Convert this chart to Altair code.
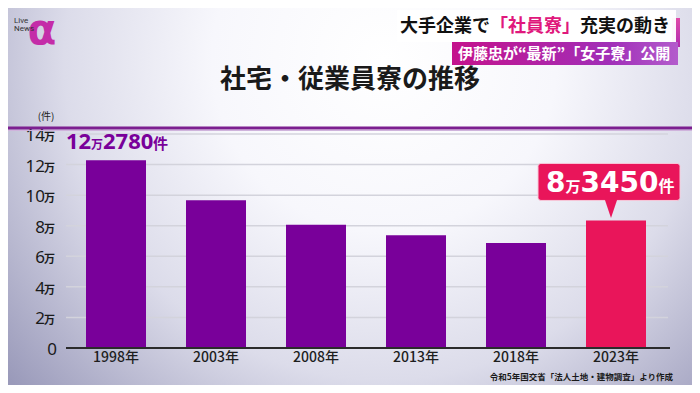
import altair as alt
import pandas as pd

# ---- data ----
years = ["1998年", "2003年", "2008年", "2013年", "2018年", "2023年"]
counts = [122780, 96600, 80600, 73700, 68700, 83450]
tick_nums = [0, 2, 4, 6, 8, 10, 12, 14]
unit_label = "万"
title_text = "社宅・従業員寮の推移"
source_text = "令和5年国交省「法人土地・建物調査」より作成"
banner1_parts = ["大手企業で", "「社員寮」", "充実の動き"]
banner2_text = "伊藤忠が“最新”「女子寮」公開"

PURPLE = "#79009a"
RED = "#e9155a"
JP = "Noto Sans CJK JP"

bars_df = pd.DataFrame({"year": years, "count": counts})
bars_df["man"] = (bars_df["count"] // 10000).astype(str)
bars_df["rest"] = (bars_df["count"] % 10000).astype(str)
ticks_df = pd.DataFrame({"v": [n * 10000 for n in tick_nums],
                         "num": [str(n) for n in tick_nums]})
deco = pd.DataFrame({"k": [0]})

W, H = 600, 214
xscale = alt.Scale(domain=years, paddingInner=0.4, paddingOuter=0.2)
yscale = alt.Scale(domain=[0, 140000], nice=False)

Xn = alt.X("year:N", scale=xscale, sort=years, axis=None)
Yn = alt.Y("count:Q", scale=yscale, axis=None)
Yt = alt.Y("v:Q", scale=yscale, axis=None)

# background
bg = alt.Chart(deco).mark_rect(
    fill=alt.Gradient(gradient="radial",
                      stops=[alt.GradientStop(color="#ffffff", offset=0),
                             alt.GradientStop(color="#f7f7fc", offset=0.35),
                             alt.GradientStop(color="#dcdcea", offset=0.65),
                             alt.GradientStop(color="#9a9aba", offset=1)],
                      x1=0.55, y1=0.3, r1=0, x2=0.55, y2=0.3, r2=0.72)
).encode(x=alt.value(-58), x2=alt.value(626), y=alt.value(-126), y2=alt.value(251))

# gridlines
grid = alt.Chart(ticks_df).transform_filter(alt.datum.v > 0).mark_rule(
    color="#d3d3dc", strokeWidth=1.5).encode(x=alt.value(0), x2=alt.value(602), y=Yt)

bars = alt.Chart(bars_df).mark_bar().encode(
    x=Xn, y=Yn,
    color=alt.condition(alt.datum.year == "2023年", alt.value(RED), alt.value(PURPLE)),
)

# x baseline and labels
base = alt.Chart(ticks_df).transform_filter(alt.datum.v == 0).mark_rule(
    color="#2b2b2b", strokeWidth=2).encode(x=alt.value(0), x2=alt.value(604), y=Yt)
xlab = alt.Chart(bars_df).mark_text(
    align="center", baseline="top", font=JP, fontSize=14, fontWeight=500, color="#1e1e1e"
).encode(x=Xn, y=alt.value(H + 3), text="year:N")

# y tick labels
tick_num = alt.Chart(ticks_df).transform_filter(alt.datum.v > 0).mark_text(
    align="right", baseline="alphabetic", dy=7, font="Noto Sans", fontSize=17,
    color="#1a1a1a").encode(x=alt.value(-21), y=Yt, text="num:N")
tick_unit = alt.Chart(ticks_df).transform_filter(alt.datum.v > 0).mark_text(
    align="left", baseline="alphabetic", dy=7, font=JP, fontSize=11, fontWeight="bold",
    color="#1a1a1a", text=unit_label).encode(x=alt.value(-22), y=Yt)
tick_zero = alt.Chart(ticks_df).transform_filter(alt.datum.v == 0).mark_text(
    align="right", baseline="alphabetic", dy=7, font="Noto Sans", fontSize=17,
    color="#1a1a1a").encode(x=alt.value(-9), y=Yt, text="num:N")
unit_hdr = alt.Chart(deco).mark_text(text="(件)", font=JP, fontSize=10, color="#222",
                                     baseline="middle").encode(x=alt.value(-20), y=alt.value(-17))

# 1998 annotation
first = alt.Chart(bars_df).transform_filter(alt.datum.year == "1998年")
a_man = first.mark_text(align="left", baseline="alphabetic", dx=-50, dy=-11, font="Noto Sans",
                        fontWeight="bold", fontSize=22, color=PURPLE).encode(x=Xn, y=Yn, text="man:N")
a_u1 = first.mark_text(align="left", baseline="alphabetic", dx=-25, dy=-11, font=JP,
                       fontWeight="bold", fontSize=12, color=PURPLE, text="万").encode(x=Xn, y=Yn)
a_rest = first.mark_text(align="left", baseline="alphabetic", dx=-13, dy=-11, font="Noto Sans",
                         fontWeight="bold", fontSize=22, color=PURPLE).encode(x=Xn, y=Yn, text="rest:N")
a_u2 = first.mark_text(align="left", baseline="alphabetic", dx=37, dy=-11, font=JP,
                       fontWeight="bold", fontSize=15, color=PURPLE, text="件").encode(x=Xn, y=Yn)

# 2023 callout
last = alt.Chart(bars_df).transform_filter(alt.datum.year == "2023年")
box = last.mark_bar(fill=RED, cornerRadius=3, stroke="#f7c9da", strokeWidth=1, width=142,
                    xOffset=-7, yOffset=-57, y2Offset=-20).encode(
    x=Xn, y=Yn, y2="count:Q")
tri = last.mark_point(shape="M -0.7 -1.1 L 0.7 -1.1 L 0 1 Z", size=324, filled=True,
                      fill=RED, opacity=1, strokeWidth=0, xOffset=-5, yOffset=-11.4).encode(x=Xn, y=Yn)
c_man = last.mark_text(align="left", baseline="alphabetic", dx=-70, dy=-28, font="DejaVu Sans",
                       fontWeight="bold", fontSize=28, color="white").encode(x=Xn, y=Yn, text="man:N")
c_u1 = last.mark_text(align="left", baseline="alphabetic", dx=-50.5, dy=-28, font=JP,
                      fontWeight="bold", fontSize=15, color="white", text="万").encode(x=Xn, y=Yn)
c_rest = last.mark_text(align="left", baseline="alphabetic", dx=-35.5, dy=-28, font="DejaVu Sans",
                        fontWeight="bold", fontSize=28, color="white").encode(x=Xn, y=Yn, text="rest:N")
c_u2 = last.mark_text(align="left", baseline="alphabetic", dx=42.5, dy=-28, font=JP,
                      fontWeight="bold", fontSize=16, color="white", text="件").encode(x=Xn, y=Yn)

# header decorations
dc = alt.Chart(deco)
rule1 = dc.mark_rule(color="#7c1f90", strokeWidth=3).encode(
    x=alt.value(-58), x2=alt.value(626), y=alt.value(-6))
rule2 = dc.mark_rule(color="#cfb3dc", strokeWidth=1).encode(
    x=alt.value(-58), x2=alt.value(626), y=alt.value(-3.5))
title = dc.mark_text(text=title_text, font=JP, fontWeight="bold", fontSize=26, color="#1a1a1a",
                     align="center", baseline="middle").encode(x=alt.value(284), y=alt.value(-54))
accent = dc.mark_rect(fill=alt.Gradient(gradient="linear",
                                        stops=[alt.GradientStop(color="#e04aa8", offset=0),
                                               alt.GradientStop(color="#b02ab0", offset=1)],
                                        x1=0, y1=0, x2=0, y2=1)).encode(
    x=alt.value(606), x2=alt.value(614), y=alt.value(-116), y2=alt.value(-87))
ban1 = dc.mark_rect(fill="white", opacity=0.96).encode(
    x=alt.value(331), x2=alt.value(610), y=alt.value(-124), y2=alt.value(-92))
ban2 = dc.mark_rect(fill=alt.Gradient(gradient="linear",
                                      stops=[alt.GradientStop(color="#c4128c", offset=0),
                                             alt.GradientStop(color="#a12fb8", offset=0.7),
                                             alt.GradientStop(color="#b35ccc", offset=1)],
                                      x1=0, y1=0, x2=1, y2=0)).encode(
    x=alt.value(386), x2=alt.value(612), y=alt.value(-92), y2=alt.value(-69))
b1a = dc.mark_text(text=banner1_parts[0], font=JP, fontWeight="bold", fontSize=18, color="#111",
                   align="left", baseline="middle").encode(x=alt.value(334), y=alt.value(-107.5))
b1b = dc.mark_text(text=banner1_parts[1], font=JP, fontWeight="bold", fontSize=18, color="#e0187c",
                   align="left", baseline="middle").encode(x=alt.value(424), y=alt.value(-107.5))
b1c = dc.mark_text(text=banner1_parts[2], font=JP, fontWeight="bold", fontSize=18, color="#111",
                   align="left", baseline="middle").encode(x=alt.value(514), y=alt.value(-107.5))
b2 = dc.mark_text(text=banner2_text, font=JP, fontWeight="bold", fontSize=15, color="white",
                  align="left", baseline="middle").encode(x=alt.value(392), y=alt.value(-80))
logo = dc.mark_text(text="α", font="DejaVu Sans", fontWeight="bold", fontSize=42, color="#c42ca8",
                    align="center", baseline="middle").encode(x=alt.value(-24), y=alt.value(-103))
live = dc.mark_text(text="Live", font="Roboto", fontSize=8, color="#333",
                    align="left", baseline="middle").encode(x=alt.value(-52), y=alt.value(-113))
news = dc.mark_text(text="News", font="Roboto", fontSize=8, color="#333",
                    align="left", baseline="middle").encode(x=alt.value(-52), y=alt.value(-105))
source = dc.mark_text(text=source_text, font=JP, fontWeight="bold", fontSize=8.5, color="#1a1a1a",
                      align="right", baseline="middle").encode(x=alt.value(607), y=alt.value(243))

chart = alt.layer(
    bg, grid, bars, base, xlab, tick_num, tick_unit, tick_zero, unit_hdr,
    a_man, a_u1, a_rest, a_u2,
    box, tri, c_man, c_u1, c_rest, c_u2,
    rule1, rule2, title, accent, ban1, ban2, b1a, b1b, b1c, b2, logo, live, news, source,
).properties(
    width=W, height=H,
    autosize=alt.AutoSizeParams(type="none"),
    padding={"left": 58, "top": 126, "right": 26, "bottom": 37},
    background="#f3f3f9",
).configure_view(stroke=None)

chart.save("out.html", embed_options={"renderer": "svg", "actions": False})
